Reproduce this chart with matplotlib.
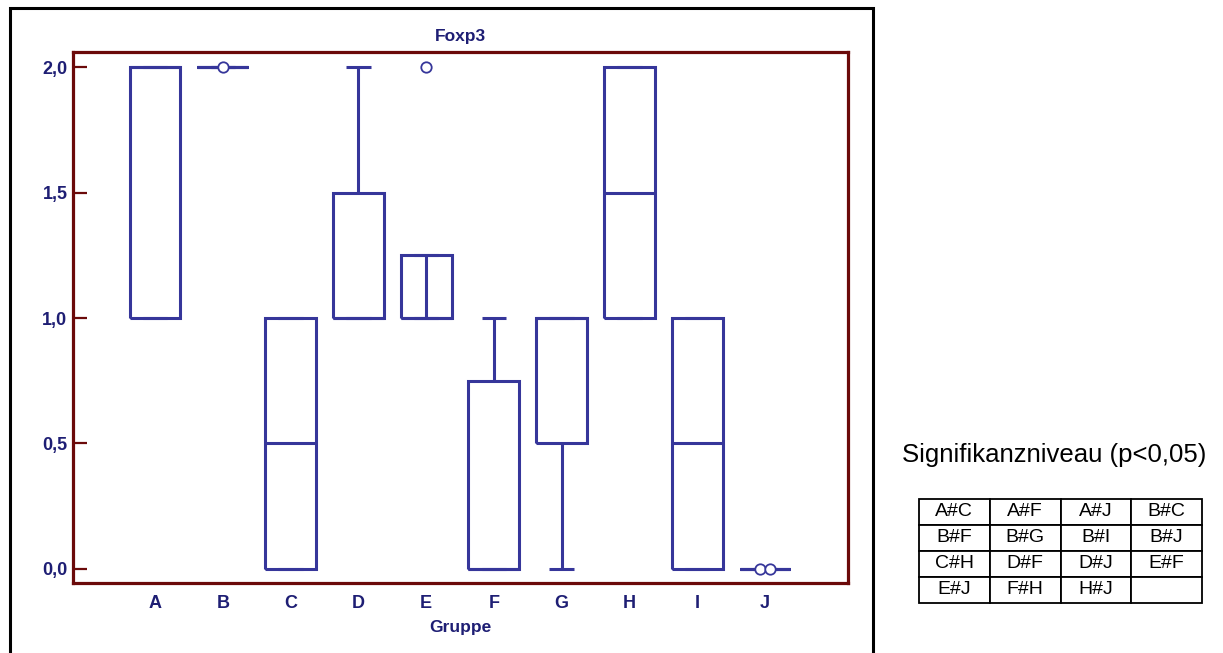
import matplotlib
matplotlib.use("Agg")
import matplotlib.pyplot as plt
from matplotlib.patches import Rectangle

plt.rcParams['font.family'] = ['Liberation Sans', 'DejaVu Sans']

# Summary statistics per group (Foxp3 score)
groups = ['A', 'B', 'C', 'D', 'E', 'F', 'G', 'H', 'I', 'J']
q1 = [1.0, 2.0, 0.0, 1.0, 1.0, 0.0, 0.5, 1.0, 0.0, 0.0]
med = [2.0, 2.0, 0.5, 1.0, 1.0, 0.0, 1.0, 1.5, 0.5, 0.0]
q3 = [2.0, 2.0, 1.0, 1.5, 1.25, 0.75, 1.0, 2.0, 1.0, 0.0]
whislo = [1.0, 2.0, 0.0, 1.0, 1.0, 0.0, 0.0, 1.0, 0.0, 0.0]
whishi = [2.0, 2.0, 1.0, 2.0, 1.25, 1.0, 1.0, 2.0, 1.0, 0.0]
outliers = {'B': [2.0], 'E': [2.0], 'J': [0.0, 0.0]}
split_groups = ['E']

yticks = [0.0, 0.5, 1.0, 1.5, 2.0]
ytick_labels = ['0,0', '0,5', '1,0', '1,5', '2,0']

sig_pairs = [['A#C', 'A#F', 'A#J', 'B#C'],
             ['B#F', 'B#G', 'B#I', 'B#J'],
             ['C#H', 'D#F', 'D#J', 'E#F'],
             ['E#J', 'F#H', 'H#J', '']]

BOX = '#36369a'
TXT = '#1e1e74'
FRAME = '#6b0a0a'

W, H = 1223, 653
fig = plt.figure(figsize=(W / 100, H / 100), dpi=100)

# outer frame around the chart panel (bottom edge runs off the canvas)
fig.patches.append(Rectangle((10 / W, -0.02), (873 - 10) / W, 1.02 - 8 / H,
                             transform=fig.transFigure, fill=False,
                             edgecolor='black', linewidth=2.2, zorder=0))

ax = fig.add_axes([73 / W, (H - 583) / H, (848 - 73) / W, (583 - 52) / H])

positions = list(range(1, len(groups) + 1))
stats = []
for g, a, m, b, lo, hi in zip(groups, q1, med, q3, whislo, whishi):
    stats.append(dict(label=g, q1=a, med=m, q3=b, whislo=lo, whishi=hi, fliers=[]))

lp = dict(color=BOX, linewidth=2.2, solid_joinstyle='miter', solid_capstyle='butt')
ax.bxp(stats, positions=positions, widths=0.75, capwidths=0.36, showfliers=False,
       boxprops=lp, medianprops=lp, whiskerprops=lp, capprops=lp)

for g in split_groups:
    i = groups.index(g)
    ax.vlines(positions[i], q1[i], q3[i], color=BOX, linewidth=2.2)

# outlying points, spread slightly when several coincide
for g, vals in outliers.items():
    i = groups.index(g)
    n = len(vals)
    for k, v in enumerate(vals):
        dx = (k - (n - 1) / 2) * 0.16
        ax.plot(positions[i] + dx, v, 'o', markersize=7.5, markerfacecolor='white',
                markeredgecolor=BOX, markeredgewidth=1.3, zorder=5)

ax.set_xlim(-0.21, 11.225)
ax.set_ylim(-0.056, 2.06)

ax.set_yticks(yticks)
ax.set_yticklabels(ytick_labels)
ax.tick_params(axis='y', direction='in', length=10, width=1.6, color=FRAME,
               pad=4, labelsize=13, labelcolor=TXT)
ax.tick_params(axis='x', length=0, pad=8.5, labelsize=13, labelcolor=TXT)
for lab in ax.get_xticklabels() + ax.get_yticklabels():
    lab.set_fontweight('bold')

for sp in ax.spines.values():
    sp.set_color(FRAME)
    sp.set_linewidth(2.3)

ax.set_title('Foxp3', fontsize=12.5, fontweight='bold', color=TXT, pad=8)
ax.set_xlabel('Gruppe', fontsize=12.5, fontweight='bold', color=TXT, labelpad=6)

fig.text(902 / W, 1 - 455 / H, 'Signifikanzniveau (p<0,05)', fontsize=18.5,
         va='center', ha='left', color='black')

tax = fig.add_axes([919 / W, (H - 603) / H, (1202 - 919) / W, (603 - 499) / H])
tax.axis('off')
tbl = tax.table(cellText=sig_pairs, cellLoc='center', bbox=[0, 0, 1, 1])
tbl.auto_set_font_size(False)
tbl.set_fontsize(14)
for cell in tbl.get_celld().values():
    cell.set_linewidth(1.3)
    cell.set_edgecolor('black')

fig.savefig('out.png', dpi=100)
